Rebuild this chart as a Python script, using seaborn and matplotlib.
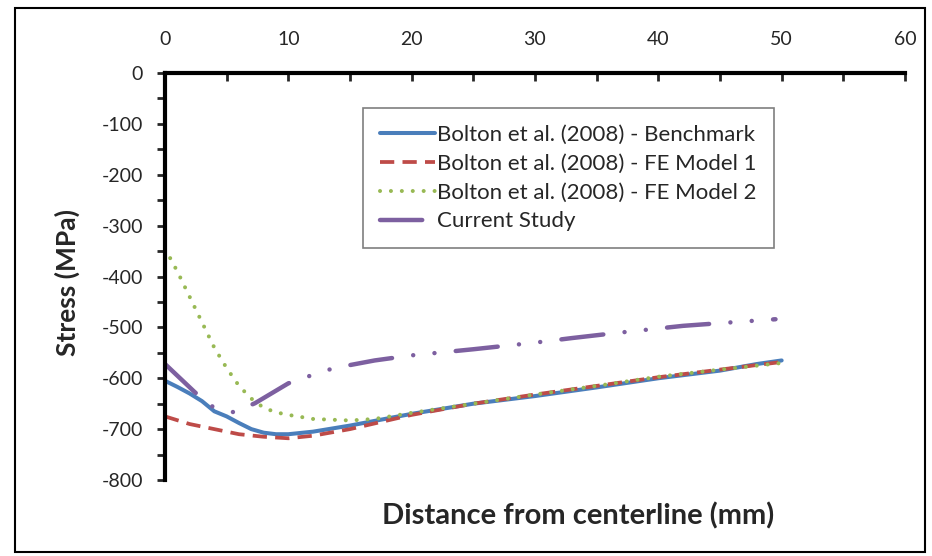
import matplotlib
matplotlib.use("Agg")
import matplotlib.pyplot as plt
import matplotlib.patches as mpatches
from matplotlib.ticker import MultipleLocator
import numpy as np
import pandas as pd
import seaborn as sns

# distance from centerline (mm) and stress (MPa)
bench_x = [0, 1, 2, 3, 4, 5, 6, 7, 8, 9, 10, 12, 15, 20, 25, 30, 35, 40, 45, 48, 50]
bench_y = [-605, -617, -630, -645, -665, -675, -688, -700, -707, -710, -710, -705, -693, -670, -650, -635, -618, -600, -585, -572, -565]

fe1_x = [0, 2, 4, 6, 8, 10, 12, 15, 20, 25, 30, 35, 40, 45, 50]
fe1_y = [-675, -690, -700, -710, -715, -718, -713, -700, -672, -650, -632, -615, -598, -583, -568]

fe2_x = [0, 1, 2, 3, 4, 5, 6, 7, 8, 9, 10, 12, 15, 17, 20, 25, 30, 35, 40, 45, 50]
fe2_y = [-345, -390, -440, -490, -540, -580, -615, -640, -658, -667, -672, -680, -683, -680, -668, -650, -632, -615, -597, -583, -570]

cur_x = [0, 2.4, 3.8, 5.6, 7.3, 10, 11.9, 13.7, 17, 20, 25, 30, 33, 36.6, 42, 45.4, 49.5]
cur_y = [-572, -627, -655, -667, -649, -610, -594, -580, -565, -555, -543, -530, -521, -511, -497, -491, -484]

labels = [
    "Bolton et al. (2008) - Benchmark",
    "Bolton et al. (2008) - FE Model 1",
    "Bolton et al. (2008) - FE Model 2",
    "Current Study",
]

sns.set_style("white")
plt.rcParams["font.family"] = ["Lato", "DejaVu Sans"]

fig = plt.figure(figsize=(9.32, 5.56), dpi=100)
ax = fig.add_axes([165 / 932, 1 - 480 / 556, 740 / 932, 407 / 556])

sns.lineplot(x=bench_x, y=bench_y, ax=ax, color="#4A7EBB", lw=2.9,
             label=labels[0])
sns.lineplot(x=fe1_x, y=fe1_y, ax=ax, color="#BE4B48", lw=2.7,
             linestyle=(0, (3.8, 2.2)), label=labels[1])
sns.lineplot(x=fe2_x, y=fe2_y, ax=ax, color="#98B954", lw=2.9,
             linestyle=(0, (0.01, 2.7)), dash_capstyle="round", label=labels[2])
sns.lineplot(x=cur_x, y=cur_y, ax=ax, color="#7D60A0", lw=3.2,
             linestyle=(0, (9.5, 4.8, 0.01, 4.8, 0.01, 4.8)),
             dash_capstyle="round", label=labels[3])

ax.set_xlim(0, 60)
ax.set_ylim(-800, 0)
ax.xaxis.set_major_locator(MultipleLocator(10))
ax.xaxis.set_minor_locator(MultipleLocator(5))
ax.yaxis.set_major_locator(MultipleLocator(100))
ax.yaxis.set_minor_locator(MultipleLocator(50))
ax.xaxis.tick_top()
ax.tick_params(axis="x", which="both", direction="in", length=6, width=2,
               top=True, bottom=False, labelsize=14, pad=18)
ax.tick_params(axis="y", which="both", direction="out", length=6, width=2,
               left=True, labelsize=14, pad=10)
ax.set_yticks(range(-800, 1, 100))
ax.set_yticklabels([str(v) for v in range(-800, 1, 100)])

for side in ["right", "bottom"]:
    ax.spines[side].set_visible(False)
for side in ["left", "top"]:
    ax.spines[side].set_linewidth(3)
    ax.spines[side].set_color("black")

ax.set_xlabel("")
ax.set_ylabel("Stress (MPa)", fontsize=19, fontweight="bold")
ax.yaxis.set_label_coords(67 / 932, 1 - 282 / 556, transform=fig.transFigure)
ax.yaxis.label.set_va("center")
fig.text(578 / 932, 1 - 516 / 556, "Distance from centerline (mm)",
         fontsize=21, fontweight="bold", ha="center", va="center")

leg = ax.legend(loc="upper left", bbox_to_anchor=(363 / 932, 1 - 108 / 556),
                bbox_transform=fig.transFigure, fontsize=16, frameon=True,
                fancybox=False, framealpha=1, edgecolor="#7f7f7f",
                handlelength=2.5, handletextpad=0.1, borderpad=0.75,
                labelspacing=0.4, borderaxespad=0)
leg.get_frame().set_linewidth(1.2)

fig.patches.append(mpatches.Rectangle((15 / 932, 1 - 552 / 556), 910 / 932,
                                      544 / 556, transform=fig.transFigure,
                                      fill=False, edgecolor="black", lw=1.5))

fig.savefig("out.png", dpi=100)
